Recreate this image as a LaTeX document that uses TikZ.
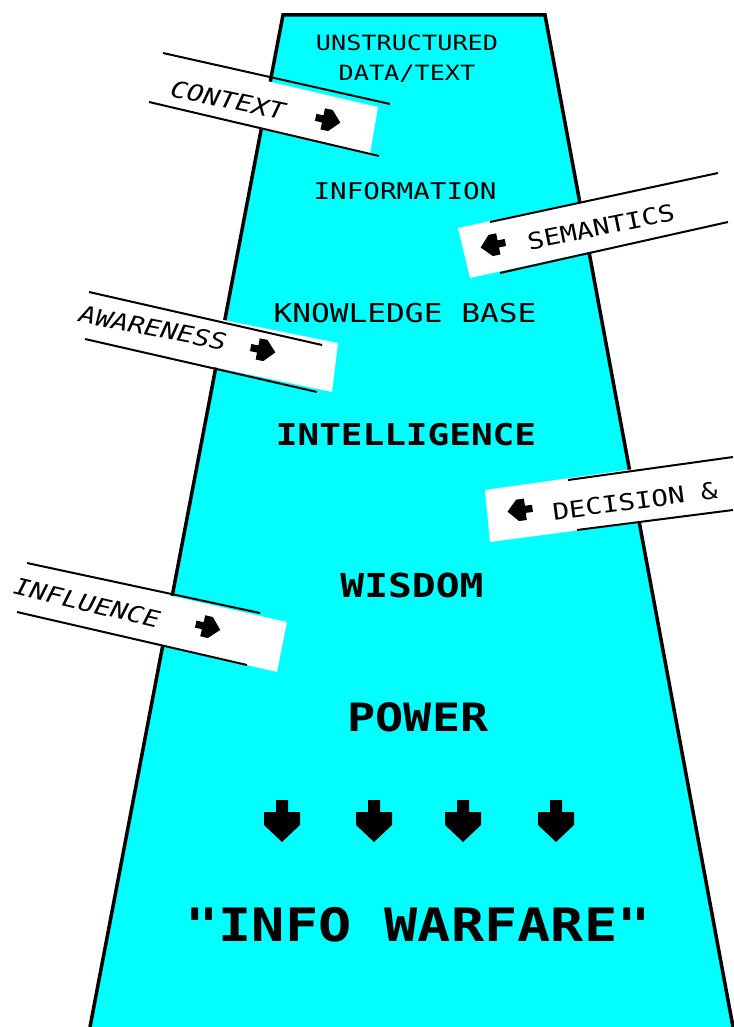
\documentclass[tikz,border=0pt]{standalone}
\usepackage{fontspec}
\usepackage{xcolor}
\usepackage{tikz}
\newfontfamily\pixfont[FakeStretch=1.2,
  BoldFont={DejaVu Sans Mono Bold},
  ItalicFont={DejaVu Sans Mono Oblique}]{DejaVu Sans Mono}
\definecolor{funnel}{RGB}{0,255,255}

\begin{document}
\begin{tikzpicture}[x=1pt,y=-1pt,
    word/.style={font=\pixfont\fontsize{#1}{#1}\selectfont,inner sep=0pt},
    bold word/.style={font=\pixfont\bfseries\fontsize{#1}{#1}\selectfont,inner sep=0pt},
    tag/.style={font=\pixfont\itshape\fontsize{23}{23}\selectfont,inner sep=0pt},
    rtag/.style={font=\pixfont\fontsize{23}{23}\selectfont,inner sep=0pt},
    strip/.style={line width=2pt},
    pics/fatarrow/.style={code={
        \fill (-6,-21) -- (6,-21) -- (6,-9) -- (18,-9) -- (18,4) -- (0,21)
              -- (-18,4) -- (-18,-9) -- (-6,-9) -- cycle;}}]
    \useasboundingbox (0,0) rectangle (733,1027);

    % the funnel
    \fill[funnel] (283,15) -- (545,15) -- (733,1027) -- (90,1027) -- cycle;
    \draw[line width=3.5pt] (90,1027) -- (283,15) -- (545,15) -- (733,1027);

    % side strips
    \fill[white] (160,56) -- (378,107) -- (370,154) -- (150,104) -- cycle;
    \draw[strip] (163,53) -- (390,104);
    \draw[strip] (149,102) -- (379,156);
    \fill[white] (458,228) -- (720,172) -- (730,221) -- (470,278) -- cycle;
    \draw[strip] (490,222) -- (718,173);
    \draw[strip] (500,273) -- (728,222);
    \fill[white] (89,293) -- (338,343) -- (332,392) -- (85,340) -- cycle;
    \draw[strip] (89,292) -- (322,345);
    \draw[strip] (85,339) -- (317,392);
    \fill[white] (485,490) -- (733,455) -- (733,510) -- (490,542) -- cycle;
    \draw[strip] (568,480) -- (733,457);
    \draw[strip] (577,530) -- (733,510);
    \fill[white] (27,563) -- (287,622) -- (277,672) -- (17,612) -- cycle;
    \draw[strip] (27,563) -- (260,613);
    \draw[strip] (17,612) -- (247,665);

    \node[tag,rotate=-12] (ctx) at (228,100) {CONTEXT};
    \pic[rotate=78,scale=0.6] (ctxarr) at (328,120) {fatarrow};
    \node[rtag,rotate=11.5] (sem) at (601,227) {SEMANTICS};
    \pic[rotate=-78.5,scale=0.6] (semarr) at (493,245) {fatarrow};
    \node[tag,rotate=-11] (awr) at (153,328) {AWARENESS};
    \pic[rotate=79,scale=0.6] (awrarr) at (263,350) {fatarrow};
    \node[rtag,rotate=7.6] (dec) at (635,501) {DECISION \&};
    \pic[rotate=-82.4,scale=0.6] (decarr) at (520,510) {fatarrow};
    \node[tag,rotate=-13.5] (inf) at (87,603) {INFLUENCE};
    \pic[rotate=76.5,scale=0.6] (infarr) at (208,627) {fatarrow};

    % levels
    \node[word=21] (raw) at (407,43) {UNSTRUCTURED};
    \node[word=21] (data) at (407,74) {DATA/TEXT};
    \node[word=23] (info) at (405,191) {INFORMATION};
    \node[word=26] (kb) at (405,313) {KNOWLEDGE BASE};
    \node[bold word=30] (intel) at (406,435) {INTELLIGENCE};
    \node[bold word=33] (wis) at (412,585) {WISDOM};
    \node[bold word=39] (pow) at (418,717) {POWER};

    \foreach \x [count=\i] in {282,374,463,556}
        \pic (down\i) at (\x,821) {fatarrow};

    \node[bold word=46] (war) at (418,925) {"INFO WARFARE"};
\end{tikzpicture}
\end{document}
